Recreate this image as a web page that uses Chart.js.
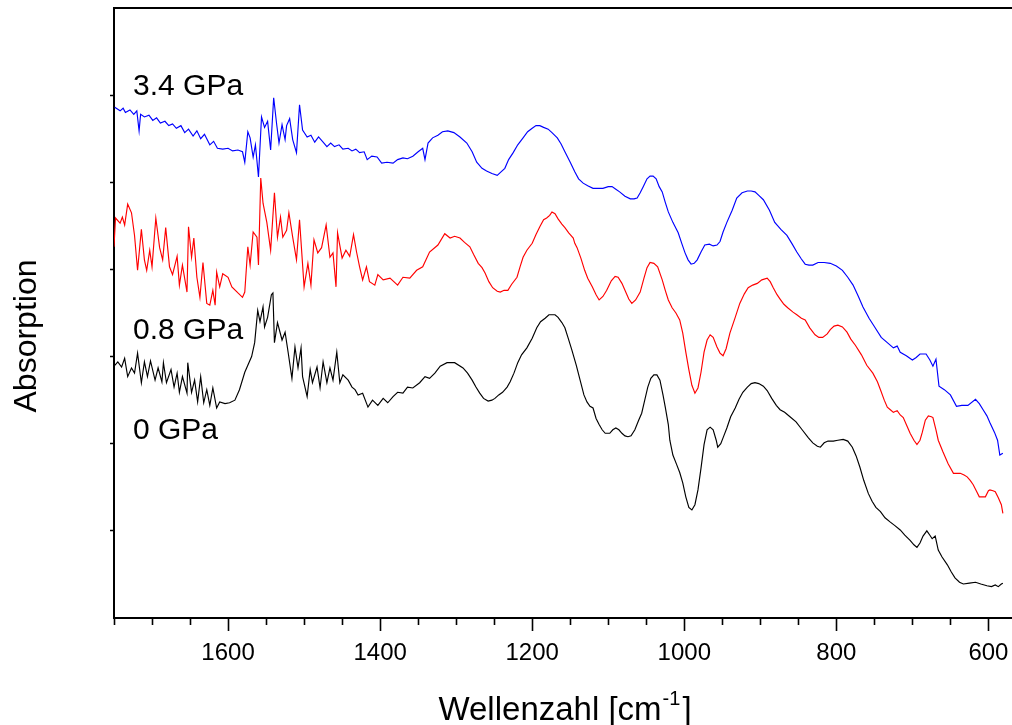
<!DOCTYPE html>
<html>
<head>
<meta charset="utf-8">
<script src="https://cdn.jsdelivr.net/npm/chart.js@4.4.1/dist/chart.umd.min.js"></script>
<style>
  html, body { margin: 0; padding: 0; background: #ffffff; }
  #wrap { width: 1012px; height: 725px; }
</style>
</head>
<body>
<div id="wrap"><canvas id="c" width="1012" height="725"></canvas></div>
<script>
// ---- IR spectra (absorption, arbitrary units, vertically offset) ----
const seriesNames = ['0 GPa', '0.8 GPa', '3.4 GPa'];

const wn00 = [
  1749,1745,1740,1736,1732,1727,1723,1719,1714,1710,
  1706,1702,1696,1692,1687,1685,1681,1675,1671,1667,
  1664,1660,1654,1653,1648,1644,1640,1636,1632,1628,
  1624,1620,1615,1611,1604,1598,1591,1585,1578,1574,
  1569,1565,1561,1558,1554,1552,1548,1543,1541,1539,
  1535,1529,1525,1521,1516,1512,1508,1504,1502,1496,
  1492,1489,1483,1479,1475,1470,1466,1462,1457,1453,
  1449,1442,1437,1433,1429,1423,1416,1410,1403,1396,
  1390,1383,1377,1370,1364,1357,1348,1341,1335,1328,
  1321,1312,1302,1291,1285,1279,1274,1269,1264,1258,
  1253,1249,1244,1239,1233,1229,1224,1219,1214,1207,
  1200,1194,1189,1183,1178,1174,1170,1166,1161,1157,
  1153,1148,1142,1137,1132,1128,1124,1120,1116,1112,
  1108,1104,1098,1094,1090,1086,1082,1078,1074,1070,
  1065,1060,1056,1052,1048,1044,1040,1036,1032,1028,
  1025,1021,1019,1015,1010,1006,1002,998,994,990,
  986,982,978,974,970,966,962,958,956,952,
  948,944,939,933,928,923,917,912,907,902,
  896,891,885,879,874,868,861,853,845,837,
  831,825,821,816,811,804,798,791,785,779,
  774,769,764,758,753,748,742,736,729,723,
  716,710,703,698,694,690,686,681,677,674,
  670,666,661,654,649,644,638,633,625,617,
  610,602,596,591,587,583,581
];
const abs00 = [
  2.90,2.94,2.88,2.98,2.77,2.87,2.81,3.04,2.70,2.94,
  2.77,2.95,2.73,2.87,2.71,2.93,2.70,2.85,2.65,2.81,
  2.59,2.77,2.58,2.93,2.59,2.73,2.48,2.77,2.47,2.62,
  2.44,2.64,2.41,2.48,2.46,2.47,2.50,2.62,2.82,2.90,
  3.00,3.16,3.53,3.40,3.57,3.34,3.45,3.71,3.73,3.16,
  3.39,3.19,3.28,3.05,2.75,3.11,2.87,3.10,2.77,2.54,
  2.85,2.70,2.88,2.64,2.94,2.70,2.87,2.73,3.05,2.70,
  2.79,2.73,2.65,2.62,2.56,2.58,2.42,2.50,2.44,2.52,
  2.47,2.54,2.59,2.58,2.65,2.64,2.70,2.77,2.75,2.81,
  2.89,2.93,2.93,2.87,2.81,2.73,2.65,2.58,2.52,2.49,
  2.50,2.52,2.56,2.59,2.65,2.71,2.81,2.93,3.02,3.10,
  3.21,3.33,3.40,3.44,3.48,3.48,3.48,3.45,3.39,3.33,
  3.22,3.08,2.90,2.73,2.56,2.48,2.43,2.41,2.29,2.22,
  2.16,2.12,2.12,2.16,2.18,2.16,2.12,2.09,2.08,2.09,
  2.16,2.27,2.35,2.50,2.65,2.75,2.79,2.79,2.73,2.56,
  2.42,2.22,2.04,1.87,1.76,1.67,1.55,1.39,1.27,1.24,
  1.30,1.47,1.72,1.99,2.16,2.19,2.16,2.04,1.96,2.00,
  2.09,2.18,2.31,2.41,2.51,2.59,2.65,2.69,2.70,2.69,
  2.66,2.61,2.52,2.44,2.39,2.36,2.31,2.25,2.16,2.07,
  2.01,1.97,1.96,2.01,2.03,2.03,2.04,2.05,2.03,1.96,
  1.86,1.73,1.58,1.43,1.34,1.27,1.22,1.15,1.10,1.06,
  1.01,0.95,0.89,0.84,0.81,0.86,0.94,1.00,0.95,0.91,
  0.94,0.78,0.70,0.61,0.53,0.46,0.41,0.39,0.40,0.41,
  0.39,0.37,0.36,0.38,0.36,0.39,0.40
];

const wn08 = [
  1750,1748,1742,1739,1736,1732,1727,1723,1719,1714,
  1710,1707,1703,1700,1695,1690,1686,1682,1677,1673,
  1667,1664,1660,1654,1652,1648,1645,1641,1637,1633,
  1628,1624,1620,1617,1615,1611,1607,1600,1595,1587,
  1581,1578,1574,1571,1567,1562,1560,1557,1554,1549,
  1544,1539,1535,1531,1528,1523,1520,1515,1510,1506,
  1500,1495,1491,1487,1482,1477,1471,1466,1462,1458,
  1456,1450,1445,1440,1435,1431,1427,1423,1418,1414,
  1407,1403,1396,1387,1377,1370,1361,1352,1344,1335,
  1324,1315,1308,1302,1295,1289,1282,1277,1271,1266,
  1262,1257,1252,1246,1242,1237,1232,1227,1220,1216,
  1212,1207,1200,1195,1190,1185,1181,1177,1174,1170,
  1166,1161,1157,1152,1146,1144,1141,1136,1131,1127,
  1121,1116,1112,1107,1102,1096,1091,1087,1082,1077,
  1073,1069,1064,1058,1053,1049,1045,1040,1035,1029,
  1025,1021,1016,1011,1006,1002,998,994,990,986,
  982,978,974,970,966,962,957,953,949,945,
  940,933,927,921,916,910,904,898,891,887,
  883,878,874,869,864,857,852,846,841,835,
  828,823,818,812,808,803,798,792,786,781,
  775,767,760,752,746,742,737,733,729,725,
  720,716,712,707,703,698,694,690,687,683,
  679,675,673,669,666,660,653,646,637,632,
  628,624,620,616,612,604,600,598,594,591,
  587,583,581
];
const abs08 = [
  4.26,4.59,4.53,4.60,4.51,4.75,4.65,4.39,3.99,4.46,
  4.11,3.99,4.22,4.03,4.59,4.25,4.11,4.48,4.03,3.94,
  4.15,3.82,4.05,3.74,4.49,4.14,4.36,3.91,3.68,4.08,
  3.61,3.59,3.76,3.59,3.97,3.80,3.95,3.91,3.80,3.73,
  3.68,3.74,4.26,4.05,4.43,4.37,4.05,5.05,4.76,4.54,
  4.22,4.88,4.37,4.60,4.37,4.45,4.65,4.37,4.11,4.57,
  3.80,4.07,3.82,4.34,4.19,4.25,4.51,4.14,4.19,3.80,
  4.42,4.13,4.22,4.15,4.40,4.20,4.03,3.88,4.03,3.86,
  3.82,3.94,3.88,3.90,3.82,3.91,3.90,3.99,4.03,4.20,
  4.28,4.41,4.36,4.38,4.36,4.31,4.26,4.17,4.07,4.02,
  3.96,3.86,3.79,3.75,3.74,3.76,3.76,3.83,3.91,4.03,
  4.14,4.22,4.30,4.40,4.49,4.57,4.59,4.62,4.66,4.64,
  4.58,4.52,4.48,4.42,4.36,4.30,4.25,4.13,3.99,3.90,
  3.80,3.71,3.65,3.69,3.76,3.87,3.92,3.91,3.84,3.74,
  3.66,3.61,3.65,3.74,3.90,4.02,4.08,4.07,4.03,3.88,
  3.76,3.65,3.56,3.50,3.42,3.27,3.05,2.85,2.67,2.58,
  2.64,2.82,3.05,3.19,3.25,3.22,3.11,3.04,3.01,3.09,
  3.27,3.45,3.61,3.72,3.79,3.82,3.84,3.88,3.90,3.86,
  3.79,3.71,3.66,3.60,3.56,3.51,3.48,3.44,3.42,3.33,
  3.25,3.22,3.22,3.26,3.31,3.35,3.36,3.34,3.28,3.20,
  3.13,3.02,2.90,2.81,2.71,2.62,2.50,2.42,2.39,2.36,
  2.38,2.33,2.30,2.20,2.12,2.04,1.99,2.04,2.13,2.27,
  2.32,2.31,2.30,2.16,2.04,1.91,1.77,1.66,1.66,1.64,
  1.62,1.58,1.53,1.46,1.39,1.39,1.46,1.47,1.46,1.45,
  1.38,1.30,1.20
];

const wn34 = [
  1749,1742,1738,1735,1729,1724,1720,1717,1715,1710,
  1704,1699,1694,1689,1683,1678,1673,1668,1662,1657,
  1652,1646,1641,1636,1631,1624,1619,1614,1607,1600,
  1594,1587,1581,1578,1574,1571,1567,1564,1560,1556,
  1552,1548,1544,1540,1536,1533,1529,1525,1523,1519,
  1515,1510,1506,1502,1496,1491,1486,1481,1475,1470,
  1465,1460,1454,1449,1442,1437,1432,1427,1421,1417,
  1411,1404,1398,1391,1383,1377,1370,1364,1357,1350,
  1344,1341,1337,1331,1324,1318,1311,1303,1295,1286,
  1279,1273,1266,1260,1253,1246,1241,1236,1231,1225,
  1219,1212,1206,1200,1195,1190,1185,1179,1174,1167,
  1162,1157,1150,1144,1139,1133,1127,1120,1114,1107,
  1100,1095,1090,1085,1078,1071,1066,1062,1058,1054,
  1049,1045,1041,1037,1033,1029,1025,1021,1015,1008,
  1003,999,995,991,987,983,978,973,967,962,
  957,953,949,944,937,931,924,917,912,907,
  902,896,888,881,873,865,858,852,846,841,
  836,831,824,816,808,800,792,785,778,771,
  765,757,749,741,733,725,720,716,708,700,
  695,690,682,677,673,669,665,658,650,642,
  635,627,617,612,607,602,598,592,588,585,
  581
];
const abs34 = [
  5.86,5.82,5.85,5.80,5.83,5.78,5.82,5.59,5.78,5.75,
  5.77,5.71,5.74,5.68,5.70,5.65,5.67,5.62,5.65,5.57,
  5.61,5.53,5.59,5.50,5.55,5.43,5.47,5.39,5.38,5.39,
  5.36,5.37,5.35,5.23,5.58,5.51,5.29,5.43,5.06,5.75,
  5.63,5.70,5.37,5.97,5.66,5.45,5.66,5.49,5.65,5.73,
  5.49,5.34,5.89,5.60,5.52,5.54,5.46,5.52,5.46,5.41,
  5.45,5.41,5.43,5.38,5.39,5.36,5.38,5.34,5.35,5.26,
  5.30,5.29,5.22,5.23,5.22,5.26,5.28,5.27,5.30,5.35,
  5.39,5.26,5.45,5.51,5.54,5.58,5.59,5.57,5.52,5.45,
  5.35,5.23,5.16,5.13,5.10,5.08,5.12,5.16,5.26,5.34,
  5.43,5.51,5.58,5.62,5.65,5.65,5.63,5.61,5.57,5.51,
  5.44,5.35,5.23,5.12,5.04,4.99,4.96,4.93,4.93,4.93,
  4.95,4.95,4.92,4.89,4.84,4.81,4.81,4.82,4.88,4.95,
  5.04,5.07,5.07,5.04,4.95,4.89,4.77,4.66,4.54,4.42,
  4.29,4.19,4.11,4.06,4.07,4.11,4.20,4.28,4.29,4.27,
  4.28,4.32,4.43,4.54,4.68,4.82,4.88,4.90,4.90,4.89,
  4.85,4.80,4.68,4.54,4.46,4.39,4.29,4.20,4.12,4.06,
  4.05,4.05,4.08,4.08,4.07,4.04,3.99,3.91,3.82,3.69,
  3.57,3.44,3.33,3.22,3.16,3.10,3.12,3.05,3.01,2.96,
  2.99,3.03,3.03,2.96,2.89,2.97,2.66,2.62,2.56,2.43,
  2.44,2.44,2.51,2.46,2.39,2.32,2.24,2.13,2.04,1.87,
  1.89
];

// axis ticks
const majorTicks = [1600, 1400, 1200, 1000, 800, 600];
const minorTicks = [1750, 1700, 1650, 1550, 1500, 1450, 1350, 1300, 1250,
                    1150, 1100, 1050, 950, 900, 850, 750, 700, 650];
const yTicks = [1, 2, 3, 4, 5, 6];

const FONT = '"Liberation Sans", Arial, Helvetica, sans-serif';

const toPoints = (xs, ys) => xs.map((v, i) => ({ x: v, y: ys[i] }));

// where each spectrum's name is written (wavenumber of left edge, baseline value)
const nameAnchors = [
  { wn: 1725, value: 2.05 },
  { wn: 1725, value: 3.20 },
  { wn: 1725, value: 6.00 }
];

const decorations = {
  id: 'decorations',
  afterDraw(chart) {
    const { ctx, chartArea: a, scales: { x, y } } = chart;
    ctx.save();
    ctx.strokeStyle = '#000';
    ctx.fillStyle = '#000';

    // top frame line
    ctx.lineWidth = 2;
    ctx.beginPath();
    ctx.moveTo(a.left - 1, a.top);
    ctx.lineTo(a.right, a.top);
    ctx.stroke();

    // short minor ticks on the wavenumber axis
    ctx.lineWidth = 1.6;
    ctx.beginPath();
    minorTicks.forEach(v => {
      const px = Math.round(x.getPixelForValue(v)) + 0.5;
      ctx.moveTo(px, a.bottom);
      ctx.lineTo(px, a.bottom + 7);
    });
    ctx.stroke();

    // spectrum names
    ctx.font = '30px ' + FONT;
    ctx.textAlign = 'left';
    ctx.textBaseline = 'alphabetic';
    chart.data.datasets.forEach((ds, i) => {
      const p = nameAnchors[i];
      ctx.fillText(ds.label, x.getPixelForValue(p.wn), y.getPixelForValue(p.value));
    });

    // x axis title with superscript
    const main = 'Wellenzahl [cm';
    const sup = '-1';
    const tail = ']';
    ctx.font = '33px ' + FONT;
    const wMain = ctx.measureText(main).width;
    const wTail = ctx.measureText(tail).width;
    ctx.font = '20px ' + FONT;
    const wSup = ctx.measureText(sup).width;
    const total = wMain + wSup + 3 + wTail;
    let tx = (a.left + a.right) / 2 + 2 - total / 2;
    const base = a.bottom + 102;
    ctx.font = '33px ' + FONT;
    ctx.fillText(main, tx, base);
    tx += wMain + 1;
    ctx.font = '20px ' + FONT;
    ctx.fillText(sup, tx, base - 15);
    tx += wSup + 2;
    ctx.font = '33px ' + FONT;
    ctx.fillText(tail, tx, base);

    // y axis title
    ctx.font = '32px ' + FONT;
    ctx.textAlign = 'center';
    ctx.translate(36, (a.top + a.bottom) / 2 + 23);
    ctx.rotate(-Math.PI / 2);
    ctx.fillText('Absorption', 0, 0);
    ctx.restore();
  }
};

new Chart(document.getElementById('c'), {
  type: 'line',
  data: {
    datasets: [
      { label: seriesNames[0], data: toPoints(wn00, abs00), borderColor: '#000000' },
      { label: seriesNames[1], data: toPoints(wn08, abs08), borderColor: '#ff0000' },
      { label: seriesNames[2], data: toPoints(wn34, abs34), borderColor: '#0000ff' }
    ]
  },
  options: {
    responsive: false,
    animation: false,
    devicePixelRatio: 1,
    parsing: false,
    layout: { padding: { top: 8, right: 0, bottom: 0, left: 0 } },
    elements: {
      point: { radius: 0 },
      line: { borderWidth: 1.15, tension: 0, fill: false }
    },
    plugins: { legend: { display: false }, tooltip: { enabled: false } },
    scales: {
      x: {
        type: 'linear',
        reverse: true,
        min: 569,
        max: 1750,
        afterBuildTicks: s => { s.ticks = majorTicks.map(v => ({ value: v })); },
        afterFit: s => { s.height = 107; s.paddingLeft = 0; s.paddingRight = 0; },
        border: { display: true, color: '#000', width: 2 },
        grid: { drawOnChartArea: false, drawTicks: true, tickLength: 13, tickColor: '#000', tickWidth: 1.6 },
        ticks: { color: '#000', font: { family: FONT, size: 24 }, padding: 8, maxRotation: 0, autoSkip: false,
                 callback: v => String(v) }
      },
      y: {
        type: 'linear',
        min: 0,
        max: 7,
        afterBuildTicks: s => { s.ticks = yTicks.map(v => ({ value: v })); },
        afterFit: s => { s.width = 114; s.paddingTop = 0; s.paddingBottom = 0; },
        border: { display: true, color: '#000', width: 2 },
        grid: { drawOnChartArea: false, drawTicks: true, tickLength: 4, tickColor: '#000', tickWidth: 1.5 },
        ticks: { display: true, callback: () => '', padding: 0 }
      }
    }
  },
  plugins: [decorations]
});
</script>
</body>
</html>
